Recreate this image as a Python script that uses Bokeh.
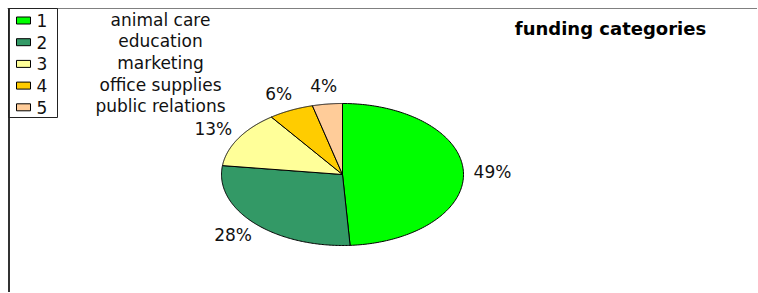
import numpy as np
from bokeh.plotting import figure
from bokeh.models import Range1d
from bokeh.embed import file_html
from bokeh.resources import INLINE
from bokeh.core.properties import value

categories = ["animal care", "education", "marketing", "office supplies", "public relations"]
keys = ["1", "2", "3", "4", "5"]
shares = [49, 28, 13, 6, 4]
colors = ["#00FF00", "#339966", "#FFFF99", "#FFCC00", "#FFCC99"]
title = "funding categories"

W, H = 757, 292
X0, Y0 = 1, 1
p = figure(width=W, height=H, output_backend="svg", toolbar_location=None,
           x_range=Range1d(X0, X0 + W), y_range=Range1d(Y0 + H, Y0),
           x_axis_type=None, y_axis_type=None, min_border=0)
p.grid.visible = False
p.outline_line_color = None
p.background_fill_color = "white"
p.border_fill_color = "white"

FONT = value("DejaVu Sans")

# frame lines
p.segment(x0=[8, 9.5], y0=[9, 9], x1=[X0 + W, 9.5], y1=[9, Y0 + H],
          line_color=["#808080", "#333333"], line_width=[1, 2])

# pie (elliptical)
cx, cy, rx, ry = 343, 175, 121, 71
frac = np.array(shares, dtype=float) / sum(shares)
ends = np.cumsum(frac)
starts = ends - frac
xs, ys = [], []
for s, e in zip(starts, ends):
    t = np.linspace(s, e, 150) * 2 * np.pi
    xs.append(np.concatenate([[cx], cx + rx * np.sin(t), [cx]]))
    ys.append(np.concatenate([[cy], cy - ry * np.cos(t), [cy]]))
p.patches(xs, ys, fill_color=colors, line_color="black", line_width=1)

mid = (starts + ends) / 2 * 2 * np.pi
lx = cx + 1.24 * rx * np.sin(mid)
ly = cy - 1.25 * ry * np.cos(mid)
p.text(x=lx, y=ly, text=[f"{v}%" for v in shares], text_font=FONT,
       text_font_size="17px", text_align="center", text_baseline="middle",
       text_color="#111111")

# legend box
p.quad(left=[9], right=[58], top=[9], bottom=[118], fill_color=None,
       line_color="#222222", line_width=1)
rows = 21 + 21.7 * np.arange(len(keys))
p.quad(left=[17] * 5, right=[31] * 5, top=rows - 3.5, bottom=rows + 3.5,
       fill_color=colors, line_color="black", line_width=1)
p.text(x=[37] * 5, y=rows, text=keys, text_font=FONT, text_font_size="17px",
       text_align="left", text_baseline="middle", text_color="#111111")
p.text(x=[161] * 5, y=rows - 1, text=categories, text_font=FONT,
       text_font_size="17px", text_align="center", text_baseline="middle",
       text_color="#111111")

# title
p.text(x=[611], y=[29], text=[title], text_font=FONT, text_font_size="18px",
       text_font_style="bold", text_align="center", text_baseline="middle",
       text_color="black")

html = file_html(p, INLINE)
open("out.html", "w").write(html)
